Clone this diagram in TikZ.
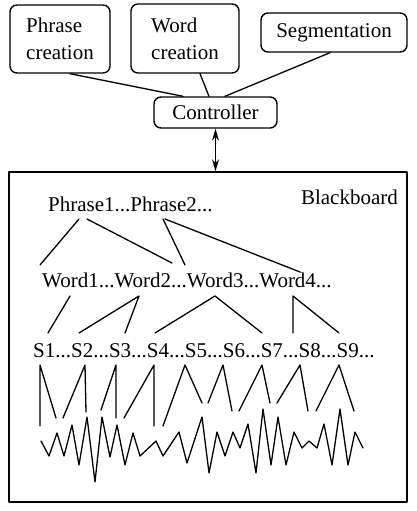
\documentclass[tikz,border=0pt]{standalone}
\usepackage{fontspec}
\setmainfont{Liberation Serif}
\usetikzlibrary{arrows.meta}

\begin{document}
\begin{tikzpicture}[
  x=1pt, y=-1pt,
  line cap=round,
  line join=round,
  every node/.style={font=\fontsize{21}{27}\selectfont, inner sep=0pt},
  box/.style={draw, line width=1.4pt, rounded corners=7pt, align=left},
  branch/.style={line width=1.3pt}
]
  \useasboundingbox (0,0) rectangle (416,511);

  % Modules
  \node[box, minimum width=100pt, minimum height=68pt] (phrase) at (60,39) {Phrase\\creation};
  \node[box, minimum width=108pt, minimum height=69pt] (word) at (185,38.5) {Word\\creation};
  \node[box, minimum width=146pt, minimum height=39pt] (seg) at (334,32.5) {Segmentation};
  \node[box, minimum width=123pt, minimum height=31pt] (ctrl) at (215.5,112.5) {Controller};

  % Links to the controller
  \draw[branch] ([xshift=10pt]phrase.south) -- ([xshift=-32.5pt]ctrl.north);
  \draw[branch] ([xshift=15pt]word.south) -- ([xshift=-6.5pt]ctrl.north);
  \draw[branch] ([xshift=-4pt]seg.south) -- ([xshift=9.5pt]ctrl.north);

  % Blackboard
  \node[draw, line width=1.5pt, minimum width=398pt, minimum height=330pt] (board) at (208,337) {};
  \node[anchor=base east] (bblabel) at (398,204) {Blackboard};

  \draw[{Stealth[length=12pt,width=7pt]}-{Stealth[length=12pt,width=7pt]}, line width=1.3pt]
    (ctrl.south) -- (ctrl.south |- board.north);

  % Levels
  \node[anchor=base west] (phrases) at (48,211) {Phrase1...Phrase2...};
  \node[anchor=base west] (words) at (42,287) {Word1...Word2...Word3...Word4...};
  \node[anchor=base west] (segs) at (33,357) {S1...S2...S3...S4...S5...S6...S7...S8...S9...};

  % Phrases -> words
  \coordinate (p1a) at (79,219);
  \coordinate (p1b) at (87,219);
  \coordinate (p2a) at (163,219);
  \coordinate (p2b) at (165,219);
  \draw[branch] (p1a) -- (40,265);
  \draw[branch] (p1b) -- (172,263);
  \draw[branch] (p2a) -- (185,265);
  \draw[branch] (p2b) -- (300,272);

  % Words -> segments
  \coordinate (w1) at (70,296);
  \coordinate (w2) at (139,296);
  \coordinate (w3) at (215,296);
  \coordinate (w4) at (293,296);
  \draw[branch] (w1) -- (48,333);
  \draw[branch] (79,333) -- (w2) -- (125,333);
  \draw[branch] (155,333) -- (w3) -- (262,333);
  \draw[branch] (293,333) -- (w4) -- (339,333);

  % Segments -> signal
  \coordinate (s1) at (40,365);
  \coordinate (s2) at (85,365);
  \coordinate (s3) at (116,365);
  \coordinate (s4) at (154,365);
  \coordinate (s5) at (185,365);
  \coordinate (s6) at (223,365);
  \coordinate (s7) at (262,365);
  \coordinate (s8) at (300,365);
  \coordinate (s9) at (339,365);
  \draw[branch] (40,426) -- (s1) -- (56,418);
  \draw[branch] (63,418) -- (s2) -- (86,412);
  \draw[branch] (101,410) -- (s3) -- (116,418);
  \draw[branch] (124,418) -- (s4) -- (154,426);
  \draw[branch] (163,426) -- (s5) -- (202,403);
  \draw[branch] (208,403) -- (s6) -- (232,411);
  \draw[branch] (239,411) -- (s7) -- (270,403);
  \draw[branch] (277,403) -- (s8) -- (308,411);
  \draw[branch] (316,411) -- (s9) -- (354,411);

  % Signal
  \draw[branch] (41,441) -- (49,456) -- (57,433) -- (64,456) -- (72,425) -- (79,465)
    -- (87,417) -- (95,482) -- (102,417) -- (110,457) -- (117,425) -- (125,465)
    -- (133,433) -- (140,456) -- (156,441) -- (163,456) -- (179,432) -- (187,463)
    -- (202,417) -- (209,473) -- (217,432) -- (225,456) -- (233,432) -- (240,448)
    -- (248,424) -- (256,473) -- (263,409) -- (271,465) -- (278,417) -- (286,465)
    -- (294,432) -- (302,448) -- (309,441) -- (317,448) -- (324,424) -- (332,465)
    -- (340,409) -- (348,465) -- (355,432) -- (363,448);
\end{tikzpicture}
\end{document}
